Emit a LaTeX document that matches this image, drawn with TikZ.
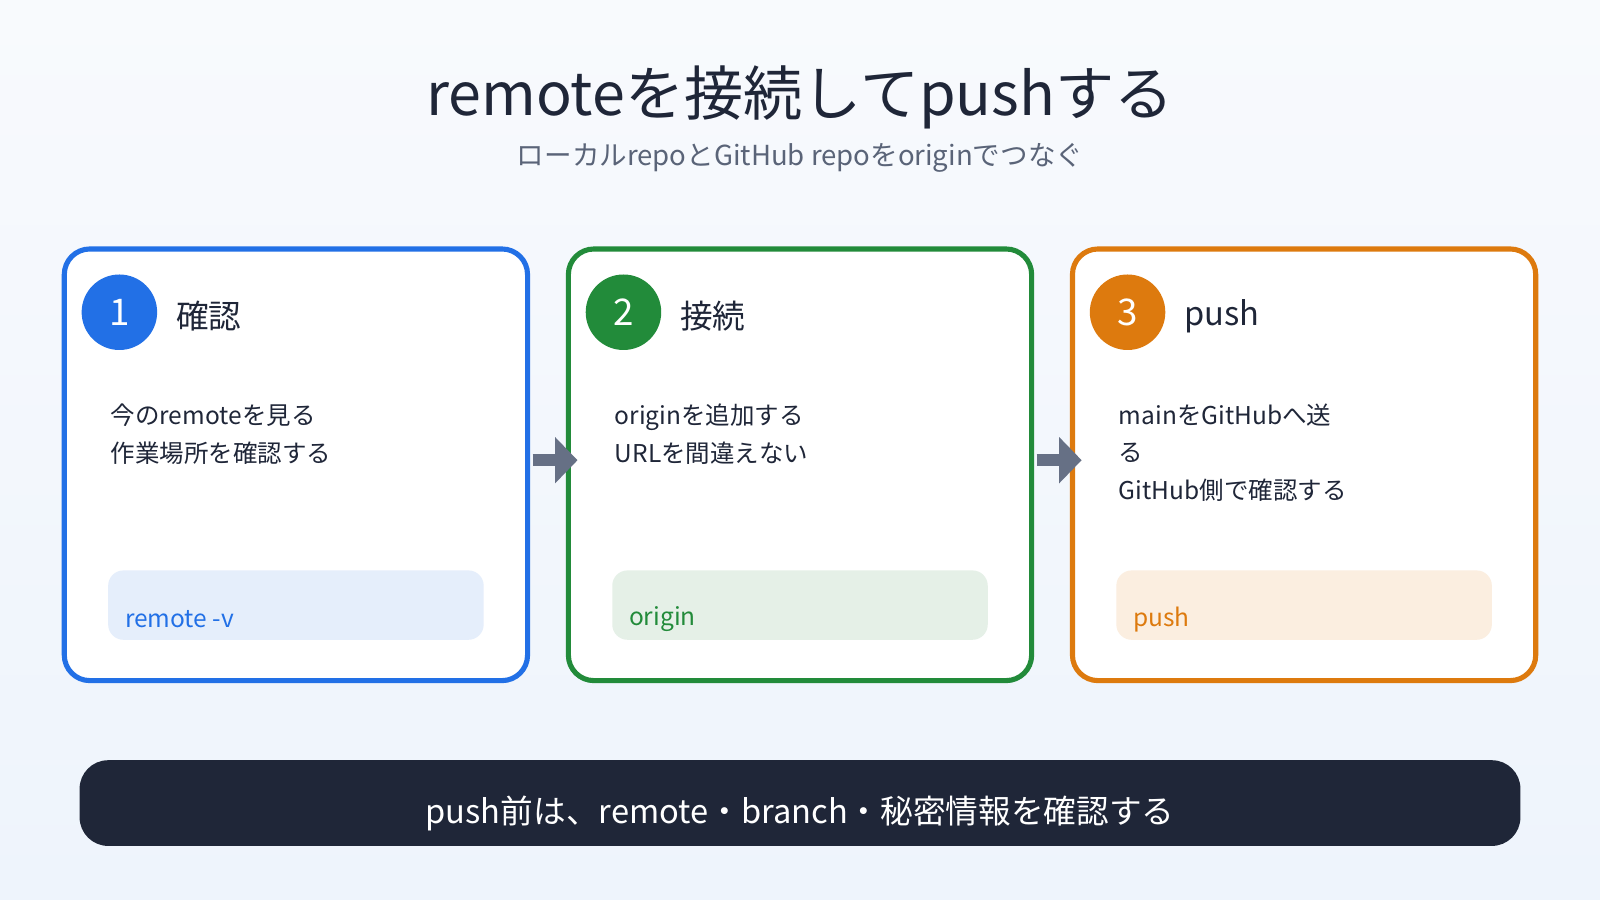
\documentclass[tikz,border=0pt]{standalone}
\usepackage{fontspec}
\setmainfont{Noto Sans CJK JP}
\usetikzlibrary{arrows.meta}
\definecolor{bA}{HTML}{2270E6}\definecolor{bAl}{HTML}{E5EEFB}
\definecolor{gA}{HTML}{228B3A}\definecolor{gAl}{HTML}{E5F0E7}
\definecolor{oA}{HTML}{DD7A0E}\definecolor{oAl}{HTML}{FBEEE0}
\definecolor{ink}{HTML}{1F2638}\definecolor{sub}{HTML}{5A6478}\definecolor{arr}{HTML}{667085}
\definecolor{bg1}{HTML}{F8FAFD}\definecolor{bg2}{HTML}{EEF4FC}
\tikzset{x=1pt,y=-1pt,
card/.style={draw=#1,line width=5pt,rounded corners=25pt,fill=white},
num/.style={circle,fill=#1,minimum size=74pt,inner sep=0,text=white,font=\fontsize{36}{36}\selectfont},
head/.style={anchor=west,text=ink,font=\fontsize{32}{36}\selectfont},
body/.style={anchor=north west,text=ink,align=left,font=\fontsize{24}{37}\selectfont},
pill/.style={fill=#1,rounded corners=15pt},
code/.style={anchor=west,font=\fontsize{24}{28}\selectfont},
flow/.style={-{Triangle[length=22pt,width=44pt]},line width=12pt,draw=arr}}
\begin{document}
\begin{tikzpicture}
\shade[top color=bg1,bottom color=bg2] (0,0) rectangle (1568,882);
\useasboundingbox (0,0) rectangle (1568,882);
\node (title) at (784,95) {\fontsize{58}{60}\selectfont\color{ink}remoteを接続してpushする};
\node (subt) at (784,155) {\fontsize{27}{30}\selectfont\color{sub}ローカルrepoとGitHub repoをoriginでつなぐ};
\foreach \i/\x/\c/\h/\b/\t in {1/63/bA/確認/{今のremoteを見る\\作業場所を確認する}/remote -v,
 2/557/gA/接続/{originを追加する\\URLを間違えない}/origin,
 3/1051/oA/push/{mainをGitHubへ送\\る\\GitHub側で確認する}/push}{
  \draw[card=\c] (\x,244) rectangle ++(454,423);
  \node[num=\c] (n\i) at (\x+54,306) {\i};
  \node[head] (h\i) at (\x+106,310) {\h};
  \node[body] (b\i) at (\x+42,392) {\b};
  \fill[pill=\c l] (\x+43,559) rectangle ++(368,68);
  \node[code,text=\c] (c\i) at (\x+56,607) {\t};
}
\coordinate (a1) at (522,451); \coordinate (a2) at (566,451);
\coordinate (a3) at (1016,451); \coordinate (a4) at (1060,451);
\draw[flow] (a1) -- (a2);
\draw[flow] (a3) -- (a4);
\fill[ink,rounded corners=28pt] (78,745) rectangle (1490,829);
\node[text=white,font=\fontsize{32}{36}\selectfont] (foot) at (784,797) {push前は、remote・branch・秘密情報を確認する};
\end{tikzpicture}
\end{document}
